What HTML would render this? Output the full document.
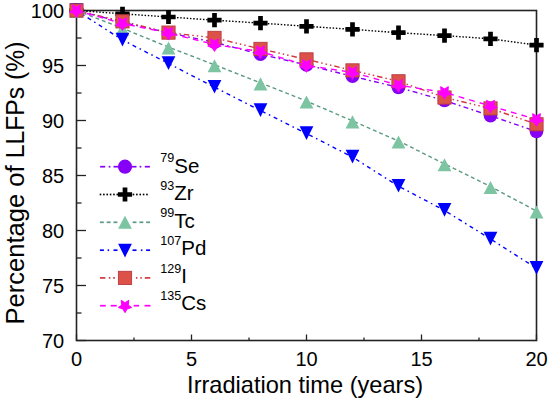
<!DOCTYPE html>
<html><head><meta charset="utf-8"><style>
html,body{margin:0;padding:0;background:#fff;width:550px;height:403px;overflow:hidden}
svg{display:block}
text{font-family:"Liberation Sans",sans-serif;fill:#000}
</style></head><body>
<svg width="550" height="403" viewBox="0 0 550 403">
<rect width="550" height="403" fill="#fff"/>
<g stroke="#232323" stroke-width="1.6" fill="none">
<rect x="76.5" y="10.5" width="460" height="330"/>
<line x1="76.5" y1="10.5" x2="86.0" y2="10.5" stroke-width="1.3"/>
<line x1="76.5" y1="38.0" x2="81.5" y2="38.0" stroke-width="1.3"/>
<line x1="76.5" y1="65.5" x2="86.0" y2="65.5" stroke-width="1.3"/>
<line x1="76.5" y1="93.0" x2="81.5" y2="93.0" stroke-width="1.3"/>
<line x1="76.5" y1="120.5" x2="86.0" y2="120.5" stroke-width="1.3"/>
<line x1="76.5" y1="148.0" x2="81.5" y2="148.0" stroke-width="1.3"/>
<line x1="76.5" y1="175.5" x2="86.0" y2="175.5" stroke-width="1.3"/>
<line x1="76.5" y1="203.0" x2="81.5" y2="203.0" stroke-width="1.3"/>
<line x1="76.5" y1="230.5" x2="86.0" y2="230.5" stroke-width="1.3"/>
<line x1="76.5" y1="258.0" x2="81.5" y2="258.0" stroke-width="1.3"/>
<line x1="76.5" y1="285.5" x2="86.0" y2="285.5" stroke-width="1.3"/>
<line x1="76.5" y1="313.0" x2="81.5" y2="313.0" stroke-width="1.3"/>
<line x1="76.5" y1="340.5" x2="86.0" y2="340.5" stroke-width="1.3"/>
<line x1="76.5" y1="340.5" x2="76.5" y2="334.5" stroke-width="1.3"/>
<line x1="134.0" y1="340.5" x2="134.0" y2="337.5" stroke-width="1.3"/>
<line x1="191.5" y1="340.5" x2="191.5" y2="334.5" stroke-width="1.3"/>
<line x1="249.0" y1="340.5" x2="249.0" y2="337.5" stroke-width="1.3"/>
<line x1="306.5" y1="340.5" x2="306.5" y2="334.5" stroke-width="1.3"/>
<line x1="364.0" y1="340.5" x2="364.0" y2="337.5" stroke-width="1.3"/>
<line x1="421.5" y1="340.5" x2="421.5" y2="334.5" stroke-width="1.3"/>
<line x1="479.0" y1="340.5" x2="479.0" y2="337.5" stroke-width="1.3"/>
<line x1="536.5" y1="340.5" x2="536.5" y2="334.5" stroke-width="1.3"/>
</g>
<text transform="translate(64.2 17.7) scale(1.0 1)" font-size="20" text-anchor="end">100</text>
<text transform="translate(64.2 72.7) scale(1.0 1)" font-size="20" text-anchor="end">95</text>
<text transform="translate(64.2 127.7) scale(1.0 1)" font-size="20" text-anchor="end">90</text>
<text transform="translate(64.2 182.7) scale(1.0 1)" font-size="20" text-anchor="end">85</text>
<text transform="translate(64.2 237.7) scale(1.0 1)" font-size="20" text-anchor="end">80</text>
<text transform="translate(64.2 292.7) scale(1.0 1)" font-size="20" text-anchor="end">75</text>
<text transform="translate(64.2 347.7) scale(1.0 1)" font-size="20" text-anchor="end">70</text>
<text transform="translate(76.5 365.6) scale(1.0 1)" font-size="20" text-anchor="middle">0</text>
<text transform="translate(191.5 365.6) scale(1.0 1)" font-size="20" text-anchor="middle">5</text>
<text transform="translate(306.5 365.6) scale(1.0 1)" font-size="20" text-anchor="middle">10</text>
<text transform="translate(421.5 365.6) scale(1.0 1)" font-size="20" text-anchor="middle">15</text>
<text transform="translate(536.5 365.6) scale(1.0 1)" font-size="20" text-anchor="middle">20</text>
<text x="305.1" y="393.3" font-size="23.6" text-anchor="middle">Irradiation time (years)</text>
<text transform="translate(24 324.6) rotate(-90) scale(1.011 1)" font-size="25.3">Percentage of</text>
<text transform="translate(24 158.2) rotate(-90) scale(0.977 1)" font-size="25.3">LLFPs (%)</text>
<polyline points="76.5,10.50 122.5,22.30 168.5,32.80 214.5,42.30 260.5,54.30 306.5,64.90 352.5,76.30 398.5,87.40 444.5,100.50 490.5,115.80 536.5,131.50" fill="none" stroke="#8700f6" stroke-width="1.4" stroke-dasharray="5 3.3 1.7 3.3"/>
<circle cx="76.50" cy="10.50" r="6.8" fill="#8700f6"/><circle cx="122.50" cy="22.30" r="6.8" fill="#8700f6"/><circle cx="168.50" cy="32.80" r="6.8" fill="#8700f6"/><circle cx="214.50" cy="42.30" r="6.8" fill="#8700f6"/><circle cx="260.50" cy="54.30" r="6.8" fill="#8700f6"/><circle cx="306.50" cy="64.90" r="6.8" fill="#8700f6"/><circle cx="352.50" cy="76.30" r="6.8" fill="#8700f6"/><circle cx="398.50" cy="87.40" r="6.8" fill="#8700f6"/><circle cx="444.50" cy="100.50" r="6.8" fill="#8700f6"/><circle cx="490.50" cy="115.80" r="6.8" fill="#8700f6"/><circle cx="536.50" cy="131.50" r="6.8" fill="#8700f6"/>
<polyline points="76.5,10.50 122.5,13.80 168.5,17.00 214.5,20.20 260.5,23.10 306.5,26.30 352.5,29.40 398.5,32.70 444.5,35.60 490.5,38.80 536.5,45.10" fill="none" stroke="#000" stroke-width="1.4" stroke-dasharray="1.5 1.75"/>
<path d="M74.15 3.40h4.7v4.75h4.75v4.7h-4.75v4.75h-4.7v-4.75h-4.75v-4.7h4.75z" fill="#000"/><path d="M120.15 6.70h4.7v4.75h4.75v4.7h-4.75v4.75h-4.7v-4.75h-4.75v-4.7h4.75z" fill="#000"/><path d="M166.15 9.90h4.7v4.75h4.75v4.7h-4.75v4.75h-4.7v-4.75h-4.75v-4.7h4.75z" fill="#000"/><path d="M212.15 13.10h4.7v4.75h4.75v4.7h-4.75v4.75h-4.7v-4.75h-4.75v-4.7h4.75z" fill="#000"/><path d="M258.15 16.00h4.7v4.75h4.75v4.7h-4.75v4.75h-4.7v-4.75h-4.75v-4.7h4.75z" fill="#000"/><path d="M304.15 19.20h4.7v4.75h4.75v4.7h-4.75v4.75h-4.7v-4.75h-4.75v-4.7h4.75z" fill="#000"/><path d="M350.15 22.30h4.7v4.75h4.75v4.7h-4.75v4.75h-4.7v-4.75h-4.75v-4.7h4.75z" fill="#000"/><path d="M396.15 25.60h4.7v4.75h4.75v4.7h-4.75v4.75h-4.7v-4.75h-4.75v-4.7h4.75z" fill="#000"/><path d="M442.15 28.50h4.7v4.75h4.75v4.7h-4.75v4.75h-4.7v-4.75h-4.75v-4.7h4.75z" fill="#000"/><path d="M488.15 31.70h4.7v4.75h4.75v4.7h-4.75v4.75h-4.7v-4.75h-4.75v-4.7h4.75z" fill="#000"/><path d="M534.15 38.00h4.7v4.75h4.75v4.7h-4.75v4.75h-4.7v-4.75h-4.75v-4.7h4.75z" fill="#000"/>
<polyline points="76.5,10.50 122.5,28.30 168.5,47.10 214.5,64.80 260.5,82.90 306.5,101.10 352.5,120.90 398.5,141.00 444.5,163.80 490.5,186.60 536.5,211.00" fill="none" stroke="#5a9a80" stroke-width="1.4" stroke-dasharray="3.9 2.9"/>
<path d="M76.50 4.90L83.40 18.00L69.60 18.00z" fill="#7cc4a2"/><path d="M122.50 22.70L129.40 35.80L115.60 35.80z" fill="#7cc4a2"/><path d="M168.50 41.50L175.40 54.60L161.60 54.60z" fill="#7cc4a2"/><path d="M214.50 59.20L221.40 72.30L207.60 72.30z" fill="#7cc4a2"/><path d="M260.50 77.30L267.40 90.40L253.60 90.40z" fill="#7cc4a2"/><path d="M306.50 95.50L313.40 108.60L299.60 108.60z" fill="#7cc4a2"/><path d="M352.50 115.30L359.40 128.40L345.60 128.40z" fill="#7cc4a2"/><path d="M398.50 135.40L405.40 148.50L391.60 148.50z" fill="#7cc4a2"/><path d="M444.50 158.20L451.40 171.30L437.60 171.30z" fill="#7cc4a2"/><path d="M490.50 181.00L497.40 194.10L483.60 194.10z" fill="#7cc4a2"/><path d="M536.50 205.40L543.40 218.50L529.60 218.50z" fill="#7cc4a2"/>
<polyline points="76.5,10.50 122.5,40.05 168.5,63.50 214.5,87.20 260.5,110.50 306.5,133.60 352.5,157.10 398.5,186.20 444.5,210.40 490.5,239.00 536.5,268.30" fill="none" stroke="#0000ff" stroke-width="1.4" stroke-dasharray="4 3.8 1.6 3.8"/>
<path d="M69.60 3.20L83.40 3.20L76.50 16.90z" fill="#0000ff"/><path d="M115.60 32.75L129.40 32.75L122.50 46.45z" fill="#0000ff"/><path d="M161.60 56.20L175.40 56.20L168.50 69.90z" fill="#0000ff"/><path d="M207.60 79.90L221.40 79.90L214.50 93.60z" fill="#0000ff"/><path d="M253.60 103.20L267.40 103.20L260.50 116.90z" fill="#0000ff"/><path d="M299.60 126.30L313.40 126.30L306.50 140.00z" fill="#0000ff"/><path d="M345.60 149.80L359.40 149.80L352.50 163.50z" fill="#0000ff"/><path d="M391.60 178.90L405.40 178.90L398.50 192.60z" fill="#0000ff"/><path d="M437.60 203.10L451.40 203.10L444.50 216.80z" fill="#0000ff"/><path d="M483.60 231.70L497.40 231.70L490.50 245.40z" fill="#0000ff"/><path d="M529.60 261.00L543.40 261.00L536.50 274.70z" fill="#0000ff"/>
<polyline points="76.5,10.50 122.5,21.35 168.5,32.60 214.5,37.90 260.5,48.90 306.5,59.40 352.5,70.40 398.5,81.30 444.5,97.50 490.5,108.40 536.5,124.30" fill="none" stroke="#d03a40" stroke-width="1.4" stroke-dasharray="5.5 3 1.5 3 1.5 3 1.5 3"/>
<rect x="69.90" y="3.90" width="13.2" height="13.2" fill="#dc5249" stroke="#b83a40" stroke-width="0.9"/><rect x="115.90" y="14.75" width="13.2" height="13.2" fill="#dc5249" stroke="#b83a40" stroke-width="0.9"/><rect x="161.90" y="26.00" width="13.2" height="13.2" fill="#dc5249" stroke="#b83a40" stroke-width="0.9"/><rect x="207.90" y="31.30" width="13.2" height="13.2" fill="#dc5249" stroke="#b83a40" stroke-width="0.9"/><rect x="253.90" y="42.30" width="13.2" height="13.2" fill="#dc5249" stroke="#b83a40" stroke-width="0.9"/><rect x="299.90" y="52.80" width="13.2" height="13.2" fill="#dc5249" stroke="#b83a40" stroke-width="0.9"/><rect x="345.90" y="63.80" width="13.2" height="13.2" fill="#dc5249" stroke="#b83a40" stroke-width="0.9"/><rect x="391.90" y="74.70" width="13.2" height="13.2" fill="#dc5249" stroke="#b83a40" stroke-width="0.9"/><rect x="437.90" y="90.90" width="13.2" height="13.2" fill="#dc5249" stroke="#b83a40" stroke-width="0.9"/><rect x="483.90" y="101.80" width="13.2" height="13.2" fill="#dc5249" stroke="#b83a40" stroke-width="0.9"/><rect x="529.90" y="117.70" width="13.2" height="13.2" fill="#dc5249" stroke="#b83a40" stroke-width="0.9"/>
<polyline points="76.5,10.50 122.5,23.50 168.5,33.00 214.5,44.50 260.5,51.60 306.5,65.40 352.5,72.40 398.5,85.20 444.5,92.40 490.5,106.00 536.5,119.40" fill="none" stroke="#ff00ff" stroke-width="1.4" stroke-dasharray="5.8 5.1"/>
<polygon points="76.50,17.10 74.44,13.63 69.90,12.10 73.17,9.72 72.70,4.90 76.50,7.30 80.30,4.90 79.83,9.72 83.10,12.10 78.56,13.63" fill="#ff00ff" stroke="#ff00ff" stroke-width="1.1" stroke-linejoin="round"/><polygon points="122.50,30.10 120.44,26.63 115.90,25.10 119.17,22.72 118.70,17.90 122.50,20.30 126.30,17.90 125.83,22.72 129.10,25.10 124.56,26.63" fill="#ff00ff" stroke="#ff00ff" stroke-width="1.1" stroke-linejoin="round"/><polygon points="168.50,39.60 166.44,36.13 161.90,34.60 165.17,32.22 164.70,27.40 168.50,29.80 172.30,27.40 171.83,32.22 175.10,34.60 170.56,36.13" fill="#ff00ff" stroke="#ff00ff" stroke-width="1.1" stroke-linejoin="round"/><polygon points="214.50,51.10 212.44,47.63 207.90,46.10 211.17,43.72 210.70,38.90 214.50,41.30 218.30,38.90 217.83,43.72 221.10,46.10 216.56,47.63" fill="#ff00ff" stroke="#ff00ff" stroke-width="1.1" stroke-linejoin="round"/><polygon points="260.50,58.20 258.44,54.73 253.90,53.20 257.17,50.82 256.70,46.00 260.50,48.40 264.30,46.00 263.83,50.82 267.10,53.20 262.56,54.73" fill="#ff00ff" stroke="#ff00ff" stroke-width="1.1" stroke-linejoin="round"/><polygon points="306.50,72.00 304.44,68.53 299.90,67.00 303.17,64.62 302.70,59.80 306.50,62.20 310.30,59.80 309.83,64.62 313.10,67.00 308.56,68.53" fill="#ff00ff" stroke="#ff00ff" stroke-width="1.1" stroke-linejoin="round"/><polygon points="352.50,79.00 350.44,75.53 345.90,74.00 349.17,71.62 348.70,66.80 352.50,69.20 356.30,66.80 355.83,71.62 359.10,74.00 354.56,75.53" fill="#ff00ff" stroke="#ff00ff" stroke-width="1.1" stroke-linejoin="round"/><polygon points="398.50,91.80 396.44,88.33 391.90,86.80 395.17,84.42 394.70,79.60 398.50,82.00 402.30,79.60 401.83,84.42 405.10,86.80 400.56,88.33" fill="#ff00ff" stroke="#ff00ff" stroke-width="1.1" stroke-linejoin="round"/><polygon points="444.50,99.00 442.44,95.53 437.90,94.00 441.17,91.62 440.70,86.80 444.50,89.20 448.30,86.80 447.83,91.62 451.10,94.00 446.56,95.53" fill="#ff00ff" stroke="#ff00ff" stroke-width="1.1" stroke-linejoin="round"/><polygon points="490.50,112.60 488.44,109.13 483.90,107.60 487.17,105.22 486.70,100.40 490.50,102.80 494.30,100.40 493.83,105.22 497.10,107.60 492.56,109.13" fill="#ff00ff" stroke="#ff00ff" stroke-width="1.1" stroke-linejoin="round"/><polygon points="536.50,126.00 534.44,122.53 529.90,121.00 533.17,118.62 532.70,113.80 536.50,116.20 540.30,113.80 539.83,118.62 543.10,121.00 538.56,122.53" fill="#ff00ff" stroke="#ff00ff" stroke-width="1.1" stroke-linejoin="round"/>
<rect x="100.1" y="165.85" width="5.10" height="1.7" fill="#8700f6"/><rect x="108.7" y="165.85" width="1.70" height="1.7" fill="#8700f6"/><rect x="113.5" y="165.85" width="5.10" height="1.7" fill="#8700f6"/><rect x="131.4" y="165.85" width="5.10" height="1.7" fill="#8700f6"/><rect x="139.6" y="165.85" width="1.70" height="1.7" fill="#8700f6"/><rect x="144.8" y="165.85" width="5.10" height="1.7" fill="#8700f6"/>
<circle cx="125.00" cy="166.70" r="7.1" fill="#8700f6"/>
<rect x="99.7" y="193.65" width="1.60" height="1.7" fill="#000"/><rect x="103.06" y="193.65" width="1.60" height="1.7" fill="#000"/><rect x="106.42" y="193.65" width="1.60" height="1.7" fill="#000"/><rect x="109.78" y="193.65" width="1.60" height="1.7" fill="#000"/><rect x="113.14" y="193.65" width="1.60" height="1.7" fill="#000"/><rect x="116.5" y="193.65" width="1.60" height="1.7" fill="#000"/><rect x="132.7" y="193.65" width="1.60" height="1.7" fill="#000"/><rect x="136.06" y="193.65" width="1.60" height="1.7" fill="#000"/><rect x="139.42" y="193.65" width="1.60" height="1.7" fill="#000"/><rect x="142.78" y="193.65" width="1.60" height="1.7" fill="#000"/><rect x="146.14" y="193.65" width="1.60" height="1.7" fill="#000"/>
<path d="M122.65 187.40h4.7v4.75h4.75v4.7h-4.75v4.75h-4.7v-4.75h-4.75v-4.7h4.75z" fill="#000"/>
<rect x="99.9" y="221.45" width="3.90" height="1.7" fill="#5a9a80"/><rect x="106.7" y="221.45" width="3.90" height="1.7" fill="#5a9a80"/><rect x="113.5" y="221.45" width="3.90" height="1.7" fill="#5a9a80"/><rect x="132.6" y="221.45" width="3.90" height="1.7" fill="#5a9a80"/><rect x="139.4" y="221.45" width="3.90" height="1.7" fill="#5a9a80"/><rect x="146.2" y="221.45" width="3.90" height="1.7" fill="#5a9a80"/>
<path d="M125.00 215.70L131.90 228.80L118.10 228.80z" fill="#7cc4a2"/>
<rect x="99.9" y="249.35" width="4.00" height="1.7" fill="#0000ff"/><rect x="107.6" y="249.35" width="1.50" height="1.7" fill="#0000ff"/><rect x="113.5" y="249.35" width="4.00" height="1.7" fill="#0000ff"/><rect x="132.5" y="249.35" width="4.00" height="1.7" fill="#0000ff"/><rect x="140.9" y="249.35" width="1.50" height="1.7" fill="#0000ff"/><rect x="146.1" y="249.35" width="4.00" height="1.7" fill="#0000ff"/>
<path d="M118.10 243.70L131.90 243.70L125.00 257.40z" fill="#0000ff"/>
<rect x="99.9" y="277.05" width="5.50" height="1.7" fill="#d03a40"/><rect x="108.9" y="277.05" width="1.50" height="1.7" fill="#d03a40"/><rect x="113.2" y="277.05" width="1.70" height="1.7" fill="#d03a40"/><rect x="135.9" y="277.05" width="1.50" height="1.7" fill="#d03a40"/><rect x="140.3" y="277.05" width="1.50" height="1.7" fill="#d03a40"/><rect x="144.8" y="277.05" width="5.50" height="1.7" fill="#d03a40"/>
<rect x="118.40" y="271.30" width="13.2" height="13.2" fill="#dc5249" stroke="#b83a40" stroke-width="0.9"/>
<rect x="100.1" y="304.85" width="5.70" height="1.7" fill="#ff00ff"/><rect x="110.7" y="304.85" width="6.00" height="1.7" fill="#ff00ff"/><rect x="133.6" y="304.85" width="5.50" height="1.7" fill="#ff00ff"/><rect x="144.5" y="304.85" width="6.00" height="1.7" fill="#ff00ff"/>
<polygon points="125.00,312.40 123.00,309.04 118.60,307.55 121.77,305.24 121.31,300.57 125.00,302.90 128.69,300.57 128.23,305.24 131.40,307.55 127.00,309.04" fill="#ff00ff" stroke="#ff00ff" stroke-width="1.1" stroke-linejoin="round"/>
<text x="160.2" y="162.30" font-size="12.6">79<tspan font-size="20.5" dy="10.4">Se</tspan></text>
<text x="160.2" y="189.85" font-size="12.6">93<tspan font-size="20.5" dy="10.4">Zr</tspan></text>
<text x="160.2" y="217.40" font-size="12.6">99<tspan font-size="20.5" dy="10.4">Tc</tspan></text>
<text x="160.2" y="244.95" font-size="12.6">107<tspan font-size="20.5" dy="10.4">Pd</tspan></text>
<text x="160.2" y="272.50" font-size="12.6">129<tspan font-size="20.5" dy="10.4">I</tspan></text>
<text x="160.2" y="300.05" font-size="12.6">135<tspan font-size="20.5" dy="10.4">Cs</tspan></text>
</svg></body></html>
